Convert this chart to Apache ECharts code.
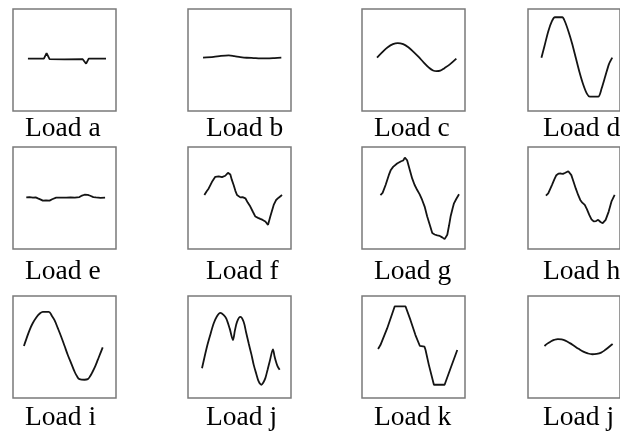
<!DOCTYPE html>
<html><head><meta charset="utf-8">
<script src="https://cdn.jsdelivr.net/npm/echarts@6/dist/echarts.min.js"></script>
<style>html,body{margin:0;padding:0;background:#fff}#c{width:620px;height:436px}</style>
</head><body><div id="c"></div>
<script>
// Panel labels
const labels = ['Load a','Load b','Load c','Load d','Load e','Load f','Load g','Load h','Load i','Load j','Load k','Load j'];
// Waveforms: [time (0-100 across box), amplitude (-50..50)]
const loadA = [[14.5,1.3],[30,1.3],[32.6,6.8],[35.5,0.8],[50,0.6],[67.7,0.8],[71,-3.6],[73.5,1.3],[90.3,1.3]];
const loadB = [[14.6,2.3],[24.9,3.0],[32,4.0],[39.5,4.5],[45,3.8],[50.8,2.9],[57,2.2],[63.8,1.9],[70,1.6],[76.7,1.6],[84,1.9],[90.6,2.3]];
const loadC = [[14.6,2.3],[20,8],[25,12.5],[30,15.5],[34.7,16.6],[40,15.5],[45,12.5],[50,8],[55,3],[60,-2.5],[65,-7.5],[69,-10.3],[72.4,-11],[76,-10.5],[80,-8],[85,-4.5],[91.6,1.3]];
const loadD = [[14.6,2.3],[18,14],[22,28],[26,38],[29.2,41.9],[37.3,41.9],[40,38],[44,28],[48,16],[52,2],[56,-12],[60,-24],[64,-33],[67.2,-36],[76.3,-36],[80,-28],[84,-16],[88,-4],[91.6,2.3]];
const loadE = [[12.9,0.6],[16,0.8],[19.4,0.3],[22,0.6],[24.2,-0.4],[27,-1.6],[29,-2.6],[32,-2.4],[35.5,-2.6],[38,-1.2],[41.9,0.3],[46,0.4],[51.6,0.3],[56,0.6],[60,0.4],[64.5,0.9],[67,2.4],[69.4,3.2],[72.6,3.0],[75,2.2],[78,0.9],[80.6,0.6],[85,0.2],[89.4,0.3]];
const loadF = [[15.9,2.9],[18,6.4],[20.1,9.4],[23.3,15.9],[26.5,20.8],[28,20.1],[29.8,21.2],[31.5,20.1],[33,20.4],[34.6,21.4],[36.2,21.8],[38.8,24.7],[41.1,23],[42.5,18],[44.3,12.7],[46,7],[47.6,2.9],[50.8,0.6],[53,0.9],[55.7,-0.3],[58,-4.5],[60.5,-8.4],[63,-13.5],[65.4,-18.2],[68,-19.5],[70.2,-20.5],[72.5,-21.5],[75.1,-23],[77.7,-26.3],[79.9,-18.2],[83.2,-6.8],[85.5,-2],[88,0.3],[91.3,2.9]];
const loadG = [[17.9,2.9],[20,5],[23,13],[26,22.4],[28,27.5],[30.2,30.5],[32,31.2],[34.1,33.8],[36,34],[38,36],[40,36.8],[41.6,39.6],[43.8,37],[46,29],[48.7,19.2],[51,13],[53.6,7.8],[56,3.5],[58.4,-1.9],[61,-9],[63.3,-18.2],[66,-27],[68.2,-34.4],[70.5,-35.8],[73.1,-36.7],[75.5,-37.2],[77.9,-38.6],[80.2,-40.3],[82.8,-36],[84.5,-27],[86,-18.2],[88,-10],[89.3,-5.2],[91.5,-1],[94.2,3.6]];
const loadH = [[19.5,2.3],[22,4.5],[26,12.7],[28.5,18],[30.8,22.4],[33,23.8],[35.7,24],[38,23.6],[40.6,24.7],[42,25],[43.8,26.3],[45.5,24.5],[47.1,22.4],[49.5,16],[51.9,9.4],[54.5,3],[56.8,-1.9],[59,-4.6],[61.7,-6.8],[64,-11],[66.6,-16.6],[69,-21],[71.4,-23],[74,-22.6],[76.3,-21.4],[78.8,-23.5],[81.2,-24.7],[84.4,-21.4],[87.7,-13.3],[90.9,-3],[94.2,3]];
const loadI = [[10.6,1],[13,8],[16.1,16.6],[19,23],[22.6,28.9],[26,32.8],[29,34.4],[34.8,34.4],[37.5,31],[40.3,26.3],[43.5,18.5],[46.8,10.1],[50,1.2],[53.2,-7.8],[56.5,-16],[59.7,-24],[62,-28.5],[64.5,-31.5],[69.4,-32.1],[72.6,-31.5],[75,-28.5],[77.4,-24],[80,-18.5],[82.3,-12.7],[84.7,-6.5],[87.1,-0.3]];
const loadJ = [[13.6,-20.8],[16,-10],[18.4,0.3],[21.5,11.5],[24.9,23],[28,30],[31.4,33.4],[34.5,31.5],[37.2,27.9],[40.5,18],[43.7,6.8],[45.5,16],[47.6,24.7],[50.8,29.5],[54,24.7],[56.5,14],[58.9,3.6],[61.5,-7],[63.8,-17.5],[66.2,-26],[68.6,-33.8],[71.2,-37],[73,-35],[75.1,-30.5],[77.2,-22.5],[79.3,-14.3],[82.5,-2.3],[84,-9],[85.4,-14.3],[87,-19],[89,-22.4]];
const loadK = [[15.6,-1.9],[17.9,1.9],[18.8,2.9],[24.4,18.2],[31.8,39.9],[42.2,39.9],[47.1,26.3],[51.9,11.7],[56.2,1],[60.7,0.3],[61.7,-2.9],[64.9,-17.5],[69.8,-37],[80.2,-37],[86,-20.8],[92.5,-2.9]];
const loadL = [[17.9,1],[21,3.3],[24.4,5.2],[28.5,7],[32.5,7.8],[36.5,7.4],[40.6,6.2],[45.5,3.8],[50.3,1],[55,-1.8],[60.1,-4.5],[65,-6.3],[69.8,-7.1],[74.5,-6.8],[79.5,-5.5],[84.5,-2.5],[89.3,1],[92,3]];
const waves = [loadA,loadB,loadC,loadD,loadE,loadF,loadG,loadH,loadI,loadJ,loadK,loadL];
const smoothness = [0,0.3,0.4,0.25,0,0,0,0,0.4,0.3,0,0.4];

// Layout
const colLeft = [13,188,362,528];
const rowTop = [9,147,296];
const boxW = 103, boxH = 102;
const labelLeft = [25,206,374,543];
const labelTop = [115,258,404];

const grids=[],xAxes=[],yAxes=[],series=[],titles=[];
for (let i=0;i<12;i++){
  const r=Math.floor(i/4), c=i%4;
  grids.push({left:colLeft[c],top:rowTop[r],width:boxW,height:boxH,show:true,borderColor:'#7a7a7a',borderWidth:1.5,backgroundColor:'#fff'});
  xAxes.push({type:'value',gridIndex:i,min:0,max:100,show:false});
  yAxes.push({type:'value',gridIndex:i,min:-50,max:50,show:false});
  series.push({type:'line',xAxisIndex:i,yAxisIndex:i,data:waves[i],smooth:smoothness[i],symbol:'none',
    lineStyle:{color:'#141414',width:1.8},clip:true});
  titles.push({text:labels[i],left:labelLeft[c],top:labelTop[r],padding:0,
    textStyle:{fontFamily:'"Liberation Serif","Times New Roman",serif',fontSize:27.5,fontWeight:'normal',color:'#000'}});
}
const chart = echarts.init(document.getElementById('c'),null,{renderer:'canvas'});
chart.setOption({animation:false,backgroundColor:'#fff',title:titles,grid:grids,xAxis:xAxes,yAxis:yAxes,series:series});
</script></body></html>
